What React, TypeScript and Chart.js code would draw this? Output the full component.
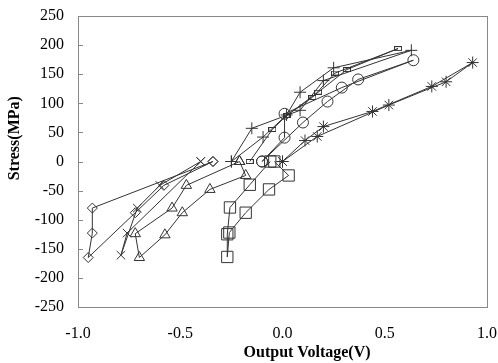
import React, { useEffect, useRef } from "react";
import { Chart, registerables } from "chart.js";

Chart.register(...registerables);

// Tick labels
const xTicks = [-1.0, -0.5, 0.0, 0.5, 1.0];
const yTicks = [-250, -200, -150, -100, -50, 0, 50, 100, 150, 200, 250];

// Series (Output Voltage V, Stress MPa)
const diamondX = [-0.34, -0.58, -0.72, -0.95, -0.93, -0.93, -0.34];
const diamondY = [0, -41, -88, -165, -123, -80, 0];

const xcrossX = [-0.4, -0.6, -0.71, -0.79, -0.76, -0.4];
const xcrossY = [0, -41, -80, -161, -123, 0];

const triangleX = [-0.21, -0.18, -0.355, -0.49, -0.575, -0.7, -0.72, -0.54, -0.47, -0.21];
const triangleY = [0, -24, -48, -88, -126, -165, -124, -80, -41, 0];

const squareX = [-0.04, 0.03, -0.066, -0.18, -0.26, -0.27, -0.27, -0.257, -0.16, -0.06];
const squareY = [0, -24, -48, -88, -122, -164, -125, -79, -40, 0];

const circleX = [-0.1, 0.01, 0.01, 0.29, 0.64, 0.37, 0.22, 0.1, -0.1];
const circleY = [0, 41, 82, 127, 174, 141, 103, 67, 0];

const starX = [0.0, 0.11, 0.2, 0.44, 0.73, 0.93, 0.8, 0.52, 0.17, 0.0];
const starY = [0, 36, 60, 86, 129, 170, 137, 97, 43, 0];

const plusX = [-0.25, -0.095, 0.02, 0.086, 0.25, 0.63, 0.2, 0.086, -0.15, -0.25];
const plusY = [0, 42, 80, 119, 161, 191, 139, 88, 57, 0];

const dashX = [-0.16, -0.05, 0.02, 0.146, 0.257, 0.565, 0.315, 0.174, 0.02];
const dashY = [0, 55, 79, 110, 152, 194, 158, 119, 79];

const pts = (xs: number[], ys: number[]) => xs.map((x, i) => ({ x, y: ys[i] }));

function makeDash(): HTMLCanvasElement {
  const c = document.createElement("canvas");
  c.width = 8;
  c.height = 5;
  const g = c.getContext("2d")!;
  g.strokeStyle = "#333";
  g.lineWidth = 1;
  g.strokeRect(0.5, 0.5, 7, 4);
  return c;
}

const frameAndTitles = {
  id: "frameAndTitles",
  afterDraw(chart: any) {
    const { ctx, chartArea } = chart;
    const { left, right, top, bottom } = chartArea;
    ctx.save();
    ctx.strokeStyle = "#888";
    ctx.lineWidth = 1;
    ctx.strokeRect(Math.round(left) + 0.5, Math.round(top) + 0.5, Math.round(right - left), Math.round(bottom - top));
    const ys = chart.scales.y;
    ctx.beginPath();
    for (const v of yTicks) {
      const py = Math.round(ys.getPixelForValue(v)) + 0.5;
      ctx.moveTo(left, py);
      ctx.lineTo(left + 5, py);
    }
    ctx.stroke();
    ctx.fillStyle = "#000";
    ctx.font = "bold 16px 'Liberation Serif'";
    ctx.textAlign = "center";
    ctx.textBaseline = "middle";
    ctx.fillText("Output Voltage(V)", left + (right - left) * 0.56, bottom + 46);
    ctx.translate(15, top + (bottom - top) * 0.42);
    ctx.rotate(-Math.PI / 2);
    ctx.fillText("Stress(MPa)", 0, 0);
    ctx.restore();
  },
};

export default function App() {
  const ref = useRef<HTMLCanvasElement>(null);
  useEffect(() => {
    const dash = makeDash();
    const line = "#333";
    const mk = (label: string, data: any[], style: any, r: number) => ({
      label,
      data,
      showLine: true,
      borderColor: line,
      borderWidth: 1,
      pointStyle: style,
      pointRadius: r,
      pointBorderColor: "#333",
      pointBackgroundColor: "rgba(0,0,0,0)",
      pointBorderWidth: 1,
      tension: 0,
    });
    const chart = new Chart(ref.current!, {
      type: "scatter",
      data: {
        datasets: [
          mk("diamond", pts(diamondX, diamondY), "rectRot", 5),
          mk("x", pts(xcrossX, xcrossY), "crossRot", 6),
          mk("triangle", pts(triangleX, triangleY), "triangle", 6),
          mk("square", pts(squareX, squareY), "rect", 8),
          mk("circle", pts(circleX, circleY), "circle", 5.5),
          mk("star", pts(starX, starY), "star", 6),
          mk("plus", pts(plusX, plusY), "cross", 6),
          mk("dash", pts(dashX, dashY), dash, 4),
        ],
      },
      options: {
        animation: false,
        responsive: false,
        layout: { padding: { left: 0, right: 11, top: 16, bottom: 0 } },
        plugins: { legend: { display: false }, tooltip: { enabled: false } },
        scales: {
          x: {
            type: "linear",
            min: -1,
            max: 1,
            afterBuildTicks: (s: any) => {
              s.ticks = xTicks.map((v) => ({ value: v }));
            },
            afterFit: (s: any) => {
              s.height = 56;
              s.paddingLeft = 0;
              s.paddingRight = 0;
            },
            grid: { display: false, drawTicks: false },
            border: { display: false },
            ticks: {
              color: "#000",
              padding: 17,
              font: { family: "'Liberation Serif'", size: 16 },
              callback: (v: any) => Number(v).toFixed(1),
              maxRotation: 0,
            },
          },
          y: {
            type: "linear",
            min: -250,
            max: 250,
            afterBuildTicks: (s: any) => {
              s.ticks = yTicks.map((v) => ({ value: v }));
            },
            afterFit: (s: any) => {
              s.width = 78;
              s.paddingTop = 0;
              s.paddingBottom = 0;
            },
            grid: { display: false, drawTicks: false },
            border: { display: false },
            ticks: {
              color: "#000",
              padding: 14,
              font: { family: "'Liberation Serif'", size: 16 },
            },
          },
        },
      },
      plugins: [frameAndTitles],
    });
    return () => chart.destroy();
  }, []);
  return (
    <div style={{ position: "fixed", left: 0, top: 0, width: 498, height: 363, background: "#fff" }}>
      <canvas ref={ref} width={498} height={363} style={{ width: 498, height: 363 }} />
    </div>
  );
}
